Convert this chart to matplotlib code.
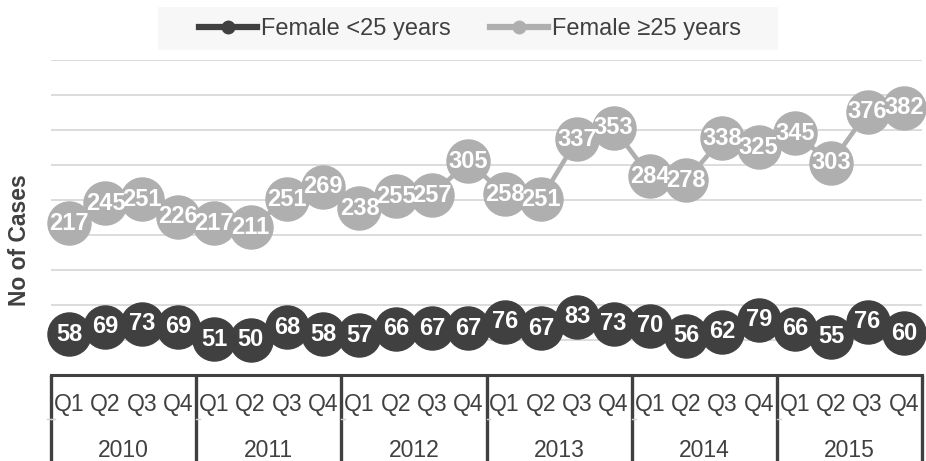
import matplotlib
matplotlib.use("Agg")
import matplotlib.pyplot as plt
from matplotlib.lines import Line2D
from matplotlib.patches import Rectangle

years = ["2010", "2011", "2012", "2013", "2014", "2015"]
quarters = ["Q1", "Q2", "Q3", "Q4"]
female_u25 = [58, 69, 73, 69, 51, 50, 68, 58, 57, 66, 67, 67,
              76, 67, 83, 73, 70, 56, 62, 79, 66, 55, 76, 60]
female_o25 = [217, 245, 251, 226, 217, 211, 251, 269, 238, 255, 257, 305,
              258, 251, 337, 353, 284, 278, 338, 325, 345, 303, 376, 382]
series_names = ["Female <25 years", "Female \u226525 years"]

DARK = "#404040"
LIGHT = "#afafaf"
TXT = "#404040"

plt.rcParams["font.family"] = ["Liberation Sans", "DejaVu Sans"]

W, H = 926, 461
fig = plt.figure(figsize=(W / 100, H / 100), dpi=100)
ax = fig.add_axes([51 / W, 1 - 375 / H, (922 - 51) / W, (375 - 60) / H])
AXH = 315.0

n = len(female_u25)
x = list(range(n))
ax.set_xlim(-0.5, n - 0.5)
ax.set_ylim(0, 450)

for yv in range(50, 451, 50):
    ax.axhline(yv, color="#d9d9d9", lw=1.3, zorder=0)

ms = 31
lw = 3.3
for vals, col in [(female_o25, LIGHT), (female_u25, DARK)]:
    ax.plot(x, vals, color=col, lw=lw, marker="o", ms=ms, mec=col, mfc=col,
            clip_on=False, zorder=3)
    for xi, v in zip(x, vals):
        ax.text(xi, v, str(v), ha="center", va="center", color="white",
                fontsize=17, fontweight="bold", zorder=4)

for s in ["right", "left", "bottom", "top"]:
    ax.spines[s].set_visible(False)
ax.set_yticks([])
ax.set_xticks([])

# category axis box
trans = ax.get_xaxis_transform()
ax.axhline(0, color=DARK, lw=2.2, zorder=5, clip_on=False)
sep_x = [-0.5 + 4 * i for i in range(len(years) + 1)]
stub = 4 / 36.3
for i, sx in enumerate(sep_x):
    ax.plot([sx, sx], [0, -0.3], transform=trans, color=DARK, lw=2.4,
            clip_on=False, solid_capstyle="butt")
    if i == 0:
        ax.plot([sx - stub, sx], [-44 / AXH] * 2, transform=trans,
                color="#d0d0d0", lw=1, clip_on=False)
    if i < len(sep_x) - 1:
        ax.plot([sx, sx + stub], [-44 / AXH] * 2, transform=trans,
                color="#d0d0d0", lw=1, clip_on=False)
for yi, yr in enumerate(years):
    for qi, q in enumerate(quarters):
        ax.text(yi * 4 + qi, -29 / AXH, q, transform=trans, ha="center",
                va="center", fontsize=16.5, color=TXT)
    ax.text(yi * 4 + 1.5, -75 / AXH, yr, transform=trans, ha="center",
            va="center", fontsize=16.5, color=TXT)

fig.text(20 / W, 1 - 240 / H, "No of Cases", rotation=90, ha="center",
         va="center", fontsize=16.5, fontweight="bold", color=TXT)

fig.patches.append(Rectangle((158 / W, 1 - 50 / H), (778 - 158) / W, 43 / H,
                             transform=fig.transFigure, facecolor="#f7f7f7",
                             edgecolor="none", zorder=0))
handles = [Line2D([], [], color=DARK, lw=4.5, marker="o", ms=9),
           Line2D([], [], color=LIGHT, lw=4.5, marker="o", ms=9)]
leg = fig.legend(handles, series_names, loc="center", ncol=2,
                 bbox_to_anchor=(470 / W, 1 - 29 / H), fontsize=17,
                 frameon=False, handlelength=2.45,
                 handletextpad=0.15, columnspacing=1.7, labelcolor=TXT)

fig.savefig("out.png", dpi=100)
